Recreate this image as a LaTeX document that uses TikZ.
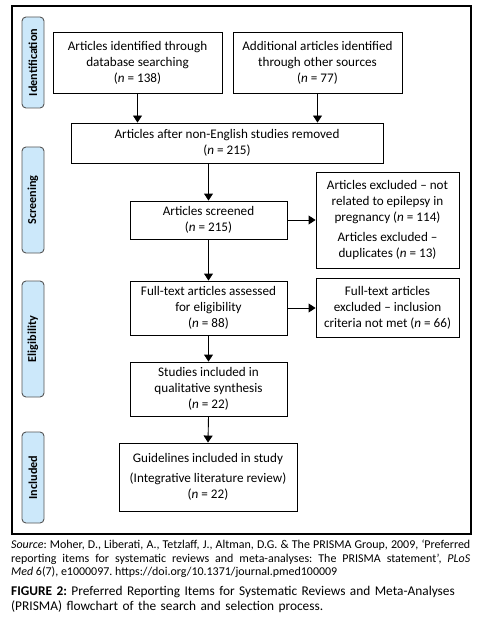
\documentclass[tikz,border=0pt]{standalone}
\usepackage{fontspec}
\setmainfont{Carlito}
\usetikzlibrary{arrows.meta}
\definecolor{tabblue}{HTML}{CCE8FA}
\definecolor{tabedge}{HTML}{555555}
\tikzset{
  box/.style={draw=black, line width=0.9bp, align=center, inner sep=2bp,
    font=\fontsize{13.2}{16}\selectfont},
  tab/.style={draw=tabedge, fill=tabblue, line width=0.9bp, rounded corners=4bp,
    minimum width=22bp, inner sep=0pt, rotate=90,
    font=\fontsize{12.2}{14}\selectfont\bfseries},
  arr/.style={-{Triangle[width=9bp,length=7bp]}, line width=0.9bp},
}
\begin{document}
\frenchspacing
\begin{tikzpicture}[x=1bp,y=-1bp]
\useasboundingbox (0,0) rectangle (493,627);
\draw[line width=1.1bp] (12,6) rectangle (471,534);
% tabs
\node[tab, minimum width=91bp, minimum height=22bp] (t1) at (33,62.5) {Identification};
\node[tab, minimum width=106bp, minimum height=22bp] (t2) at (33,200) {Screening};
\node[tab, minimum width=116bp, minimum height=22bp] (t3) at (33,339) {Eligibility};
\node[tab, minimum width=91bp, minimum height=22bp] (t4) at (33,477.5) {Included};
% boxes
\node[box, minimum width=169bp, minimum height=61bp] (b1) at (137.5,62.5)
  {Articles identified through\\database searching\\(\textit{n} = 138)};
\node[box, minimum width=169bp, minimum height=61bp] (b2) at (317.5,62.5)
  {Additional articles identified\\through other sources\\(\textit{n} = 77)};
\node[box, minimum width=312bp, minimum height=40bp] (b3) at (227,143)
  {Articles after non-English studies removed\\(\textit{n} = 215)};
\node[box, minimum width=157bp, minimum height=38bp] (scr) at (208.5,220)
  {Articles screened\\(\textit{n} = 215)};
\node[box, minimum width=143bp, minimum height=96bp] (ex1) at (387.5,220)
  {Articles excluded -- not\\related to epilepsy in\\pregnancy (\textit{n} = 114)\\[4bp]Articles excluded --\\duplicates (\textit{n} = 13)};
\node[box, minimum width=157bp, minimum height=54bp] (ft) at (208.5,308)
  {Full-text articles assessed\\for eligibility\\(\textit{n} = 88)};
\node[box, minimum width=143bp, minimum height=59bp] (ex2) at (387.5,307.5)
  {Full-text articles\\excluded -- inclusion\\criteria not met (\textit{n} = 66)};
\node[box, minimum width=157bp, minimum height=54bp] (st) at (208.5,389)
  {Studies included in\\qualitative synthesis\\(\textit{n} = 22)};
\node[box, minimum width=178bp, minimum height=68bp] (gl) at (208,477)
  {Guidelines included in study\\[4bp](Integrative literature review)\\(\textit{n} = 22)};
% arrows
\draw[arr] (b1.south) -- (b1.south |- b3.north);
\draw[arr] (b2.south) -- (b2.south |- b3.north);
\draw[arr] (scr.north |- b3.south) -- (scr.north);
\draw[arr] (scr.east) -- (scr.east -| ex1.west);
\draw[arr] (scr.south) -- (ft.north);
\draw[arr] (ft.east) -- (ft.east -| ex2.west);
\draw[arr] (ft.south) -- (st.north);
\draw[arr] (st.south) -- (gl.north);
% caption
\node[anchor=north west, inner sep=0pt, text width=459bp, align=justify,
  font=\fontsize{12}{13.5}\selectfont] (src) at (11,540)
  {\textit{Source}: Moher, D., Liberati, A., Tetzlaff, J., Altman, D.G. \& The PRISMA Group, 2009, ‘Preferred\linebreak
   reporting items for systematic reviews and meta-analyses: The PRISMA statement’, \textit{PLoS}\linebreak
   \textit{Med} 6(7), e1000097. https://doi.org/10.1371/journal.pmed100009};
\node[anchor=north west, inner sep=0pt, text width=470bp, align=left,
  font=\fontsize{13.4}{15}\selectfont] (fig) at (11,586)
  {\textbf{FIGURE 2:} Preferred Reporting Items for Systematic Reviews and Meta-Analyses\\(PRISMA) flowchart of the search and selection process.};
\end{tikzpicture}
\end{document}
